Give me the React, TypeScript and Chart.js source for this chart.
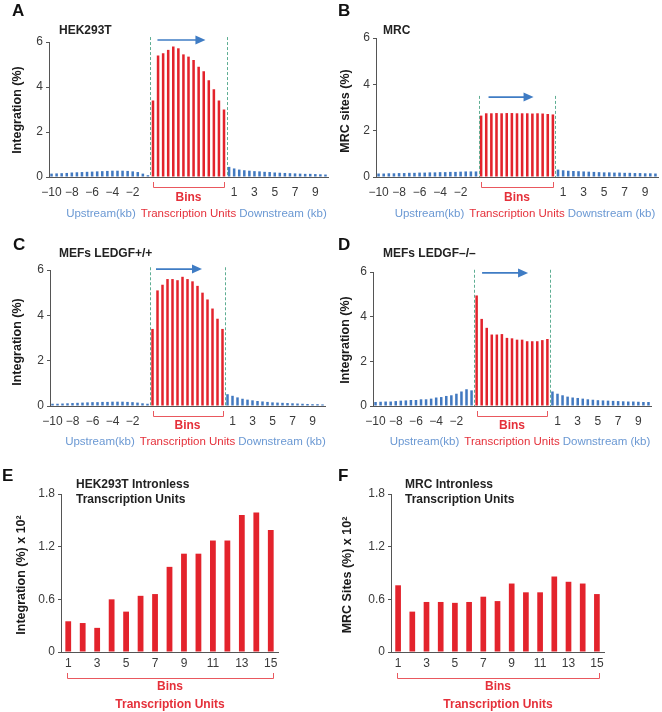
import React, { useEffect, useRef } from 'react';
import { Chart, registerables } from 'chart.js';
Chart.register(...registerables);

// ---------- categories / tick labels ----------
const upstreamBins = ['-10','-9.5','-9','-8.5','-8','-7.5','-7','-6.5','-6','-5.5','-5','-4.5','-4','-3.5','-3','-2.5','-2','-1.5','-1','-0.5'];
const tuBins = ['TU1','TU2','TU3','TU4','TU5','TU6','TU7','TU8','TU9','TU10','TU11','TU12','TU13','TU14','TU15'];
const downstreamBins = ['0.5','1','1.5','2','2.5','3','3.5','4','4.5','5','5.5','6','6.5','7','7.5','8','8.5','9','9.5','10'];
const profileTicks = ['-10','-8','-6','-4','-2','1','3','5','7','9'];
const intronlessBins = ['1','2','3','4','5','6','7','8','9','10','11','12','13','14','15'];
const intronlessTicks = ['1','3','5','7','9','11','13','15'];
const profileYTicks = [0, 2, 4, 6];
const intronlessYTicks = [0, 0.6, 1.2, 1.8];

// ---------- A: HEK293T ----------
const upA = [0.15,0.16,0.17,0.18,0.2,0.21,0.22,0.23,0.24,0.25,0.26,0.27,0.28,0.28,0.28,0.27,0.25,0.22,0.15,0.08];
const tuA = [3.4,5.4,5.5,5.65,5.8,5.72,5.45,5.35,5.2,4.9,4.7,4.3,3.9,3.4,3.0];
const downA = [0.45,0.38,0.33,0.3,0.28,0.26,0.25,0.23,0.22,0.2,0.19,0.18,0.17,0.16,0.15,0.14,0.14,0.13,0.12,0.11];
// ---------- B: MRC ----------
const upB = [0.15,0.15,0.16,0.16,0.17,0.17,0.18,0.18,0.19,0.19,0.2,0.2,0.21,0.21,0.22,0.22,0.23,0.24,0.24,0.24];
const tuB = [2.65,2.75,2.75,2.76,2.75,2.76,2.76,2.75,2.75,2.75,2.74,2.75,2.74,2.72,2.7];
const downB = [0.32,0.29,0.27,0.26,0.25,0.24,0.23,0.22,0.21,0.2,0.2,0.19,0.19,0.18,0.18,0.17,0.17,0.16,0.16,0.15];
// ---------- C: MEFs LEDGF+/+ ----------
const upC = [0.1,0.1,0.11,0.12,0.13,0.14,0.15,0.16,0.17,0.17,0.18,0.18,0.19,0.19,0.19,0.18,0.17,0.15,0.12,0.1];
const tuC = [3.4,5.1,5.35,5.6,5.6,5.55,5.7,5.6,5.5,5.3,5.0,4.7,4.3,3.85,3.4];
const downC = [0.52,0.45,0.38,0.32,0.28,0.25,0.22,0.2,0.18,0.16,0.15,0.14,0.13,0.12,0.11,0.1,0.09,0.08,0.08,0.07];
// ---------- D: MEFs LEDGF-/- ----------
const upD = [0.18,0.19,0.2,0.2,0.22,0.24,0.25,0.27,0.27,0.3,0.3,0.33,0.38,0.4,0.45,0.48,0.55,0.65,0.75,0.7];
const tuD = [4.95,3.9,3.5,3.2,3.2,3.22,3.05,3.03,2.97,2.97,2.9,2.9,2.9,2.95,3.0];
const downD = [0.65,0.55,0.48,0.42,0.38,0.36,0.33,0.3,0.28,0.26,0.25,0.24,0.23,0.22,0.21,0.2,0.2,0.19,0.18,0.18];
// ---------- E / F: intronless ----------
const intronlessHEK = [0.35,0.33,0.275,0.6,0.46,0.64,0.66,0.97,1.12,1.12,1.27,1.27,1.56,1.59,1.39];
const intronlessMRC = [0.76,0.46,0.57,0.57,0.56,0.57,0.63,0.58,0.78,0.68,0.68,0.86,0.8,0.78,0.66];

// ---------- styles ----------
const BLUE = '#4279c0';
const RED = '#e3232c';
const RED_LIGHT = '#e9585e';
const GREEN = '#5fae93';
const ARROW = '#3f7cc4';
const TEXT_BLUE = '#6a98d3';
const TEXT_RED = '#e5303a';
const AXIS = '#555555';
const TICK = '#3a3a3a';
const FONT = "'Liberation Sans', Arial, Helvetica, sans-serif";

type Box = { x: number; y: number; w: number; h: number };
type Area = { left: number; right: number; top: number; bottom: number };

type ProfileSpec = {
  kind: 'profile';
  letter: string; title: string; yTitle: string; yMax: number;
  up: number[]; tu: number[]; down: number[];
  box: Box; area: Area;
  letterPos: [number, number]; titlePos: [number, number]; yTitlePos: [number, number];
  dashTop: number; arrowY: number; arrowStart: number; arrowEnd: number;
  binsY: number; labelsY: number;
};
type IntronSpec = {
  kind: 'intron';
  letter: string; title: string[]; yTitle: string; yMax: number;
  values: number[];
  box: Box; area: Area;
  letterPos: [number, number]; titlePos: [number, number]; yTitlePos: [number, number];
};

const panels: (ProfileSpec | IntronSpec)[] = [
  { kind: 'profile', letter: 'A', title: 'HEK293T', yTitle: 'Integration (%)', yMax: 6,
    up: upA, tu: tuA, down: downA,
    box: { x: 0, y: 0, w: 331, h: 230 }, area: { left: 49, right: 328, top: 42, bottom: 177 },
    letterPos: [12, 11], titlePos: [59, 31], yTitlePos: [18, 110],
    dashTop: 6.22, arrowY: 6.09, arrowStart: 7, arrowEnd: 55, binsY: 198, labelsY: 214 },
  { kind: 'profile', letter: 'B', title: 'MRC', yTitle: 'MRC sites (%)', yMax: 6,
    up: upB, tu: tuB, down: downB,
    box: { x: 331, y: 0, w: 331, h: 230 }, area: { left: 45, right: 327, top: 38, bottom: 177 },
    letterPos: [7, 11], titlePos: [52, 31], yTitlePos: [15, 111],
    dashTop: 3.5, arrowY: 3.45, arrowStart: 10, arrowEnd: 55, binsY: 198, labelsY: 214 },
  { kind: 'profile', letter: 'C', title: 'MEFs LEDGF+/+', yTitle: 'Integration (%)', yMax: 6,
    up: upC, tu: tuC, down: downC,
    box: { x: 0, y: 230, w: 331, h: 230 }, area: { left: 50, right: 325, top: 40, bottom: 176 },
    letterPos: [13, 15], titlePos: [59, 24], yTitlePos: [18, 112],
    dashTop: 6.12, arrowY: 6.04, arrowStart: 6, arrowEnd: 52, binsY: 196, labelsY: 212 },
  { kind: 'profile', letter: 'D', title: 'MEFs LEDGF\u2013/\u2013', yTitle: 'Integration (%)', yMax: 6,
    up: upD, tu: tuD, down: downD,
    box: { x: 331, y: 230, w: 331, h: 230 }, area: { left: 42, right: 320, top: 42, bottom: 176 },
    letterPos: [7, 15], titlePos: [52, 24], yTitlePos: [15, 110],
    dashTop: 6.1, arrowY: 5.96, arrowStart: 8, arrowEnd: 54, binsY: 196, labelsY: 212 },
  { kind: 'intron', letter: 'E', title: ['HEK293T Intronless', 'Transcription Units'],
    yTitle: 'Integration (%) x 10\u00b2', yMax: 1.8, values: intronlessHEK,
    box: { x: 0, y: 460, w: 331, h: 252 }, area: { left: 61, right: 278, top: 34, bottom: 192 },
    letterPos: [2, 16], titlePos: [76, 25], yTitlePos: [22, 115] },
  { kind: 'intron', letter: 'F', title: ['MRC Intronless', 'Transcription Units'],
    yTitle: 'MRC Sites (%) x 10\u00b2', yMax: 1.8, values: intronlessMRC,
    box: { x: 331, y: 460, w: 331, h: 252 }, area: { left: 60, right: 273, top: 34, bottom: 192 },
    letterPos: [7, 16], titlePos: [74, 25], yTitlePos: [17, 115] },
];

function drawCommon(ctx: CanvasRenderingContext2D, p: ProfileSpec | IntronSpec) {
  ctx.save();
  ctx.fillStyle = '#111';
  ctx.textAlign = 'left';
  ctx.textBaseline = 'middle';
  ctx.font = `bold 17px ${FONT}`;
  ctx.fillText(p.letter, p.letterPos[0], p.letterPos[1]);
  ctx.fillStyle = '#222';
  ctx.font = `bold 12px ${FONT}`;
  const lines = Array.isArray(p.title) ? p.title : [p.title];
  lines.forEach((t, i) => ctx.fillText(t, p.titlePos[0], p.titlePos[1] + i * 15));
  ctx.translate(p.yTitlePos[0], p.yTitlePos[1]);
  ctx.rotate(-Math.PI / 2);
  ctx.textAlign = 'center';
  ctx.font = `bold 12.5px ${FONT}`;
  ctx.fillStyle = '#1a1a1a';
  ctx.fillText(p.yTitle, 0, 0);
  ctx.restore();
}

function makeProfilePlugin(p: ProfileSpec) {
  return {
    id: 'profileOverlay' + p.letter,
    afterDraw(chart: any) {
      const { ctx, chartArea } = chart;
      const xs = chart.scales.x;
      const ys = chart.scales.y;
      const nUp = p.up.length;
      const nTu = p.tu.length;
      const x0 = (xs.getPixelForValue(nUp - 1) + xs.getPixelForValue(nUp)) / 2;
      const x1 = (xs.getPixelForValue(nUp + nTu - 1) + xs.getPixelForValue(nUp + nTu)) / 2;
      ctx.save();
      // dashed boundaries
      ctx.strokeStyle = GREEN;
      ctx.lineWidth = 1;
      ctx.setLineDash([3, 2]);
      [x0, x1].forEach((xx) => {
        ctx.beginPath();
        ctx.moveTo(Math.round(xx) + 0.5, ys.getPixelForValue(p.dashTop));
        ctx.lineTo(Math.round(xx) + 0.5, chartArea.bottom);
        ctx.stroke();
      });
      ctx.setLineDash([]);
      // arrow
      const ay = ys.getPixelForValue(p.arrowY);
      const ax0 = x0 + p.arrowStart;
      const ax1 = x0 + p.arrowEnd;
      ctx.strokeStyle = ARROW;
      ctx.fillStyle = ARROW;
      ctx.lineWidth = 1.7;
      ctx.beginPath();
      ctx.moveTo(ax0, ay);
      ctx.lineTo(ax1 - 8, ay);
      ctx.stroke();
      ctx.beginPath();
      ctx.moveTo(ax1, ay);
      ctx.lineTo(ax1 - 10, ay - 4.5);
      ctx.lineTo(ax1 - 10, ay + 4.5);
      ctx.closePath();
      ctx.fill();
      // bracket
      const bx0 = xs.getPixelForValue(nUp);
      const bx1 = xs.getPixelForValue(nUp + nTu - 1);
      const bt = chartArea.bottom + 5;
      const bb = chartArea.bottom + 10;
      ctx.strokeStyle = RED_LIGHT;
      ctx.lineWidth = 1;
      ctx.beginPath();
      ctx.moveTo(Math.round(bx0) + 0.5, bt);
      ctx.lineTo(Math.round(bx0) + 0.5, bb + 0.5);
      ctx.lineTo(Math.round(bx1) + 0.5, bb + 0.5);
      ctx.lineTo(Math.round(bx1) + 0.5, bt);
      ctx.stroke();
      // labels
      const mid = (x0 + x1) / 2;
      ctx.textBaseline = 'middle';
      ctx.textAlign = 'center';
      ctx.fillStyle = TEXT_RED;
      ctx.font = `bold 12px ${FONT}`;
      ctx.fillText('Bins', mid, p.binsY);
      ctx.font = `11.5px ${FONT}`;
      const tuText = 'Transcription Units';
      const tw = ctx.measureText(tuText).width;
      ctx.fillText(tuText, mid, p.labelsY);
      ctx.fillStyle = TEXT_BLUE;
      ctx.textAlign = 'right';
      ctx.fillText('Upstream(kb)', mid - tw / 2 - 5, p.labelsY);
      ctx.textAlign = 'left';
      ctx.fillText('Downstream (kb)', mid + tw / 2 + 3, p.labelsY);
      ctx.restore();
      drawCommon(ctx, p);
    },
  };
}

function makeIntronPlugin(p: IntronSpec) {
  return {
    id: 'intronOverlay' + p.letter,
    afterDraw(chart: any) {
      const { ctx, chartArea } = chart;
      const xs = chart.scales.x;
      const bx0 = xs.getPixelForValue(0) - 1;
      const bx1 = xs.getPixelForValue(p.values.length - 1) + 2;
      const bt = chartArea.bottom + 21;
      const bb = chartArea.bottom + 26;
      ctx.save();
      ctx.strokeStyle = RED_LIGHT;
      ctx.lineWidth = 1;
      ctx.beginPath();
      ctx.moveTo(Math.round(bx0) + 0.5, bt);
      ctx.lineTo(Math.round(bx0) + 0.5, bb + 0.5);
      ctx.lineTo(Math.round(bx1) + 0.5, bb + 0.5);
      ctx.lineTo(Math.round(bx1) + 0.5, bt);
      ctx.stroke();
      const mid = (bx0 + bx1) / 2;
      ctx.fillStyle = TEXT_RED;
      ctx.textAlign = 'center';
      ctx.textBaseline = 'middle';
      ctx.font = `bold 12px ${FONT}`;
      ctx.fillText('Bins', mid, chartArea.bottom + 35);
      ctx.fillText('Transcription Units', mid, chartArea.bottom + 53);
      ctx.restore();
      drawCommon(ctx, p);
    },
  };
}

function buildConfig(p: ProfileSpec | IntronSpec): any {
  const { area, box } = p;
  let labels: string[];
  let data: number[];
  let colors: string[];
  let shown: string[];
  let barPct: number;
  let yTicks: number[];
  let xPad: number;
  if (p.kind === 'profile') {
    labels = [...upstreamBins, ...tuBins, ...downstreamBins];
    data = [...p.up, ...p.tu, ...p.down];
    colors = [...p.up.map(() => BLUE), ...p.tu.map(() => RED), ...p.down.map(() => BLUE)];
    shown = profileTicks;
    barPct = 0.5;
    yTicks = profileYTicks;
    xPad = 8;
  } else {
    labels = intronlessBins;
    data = p.values;
    colors = p.values.map(() => RED);
    shown = intronlessTicks;
    barPct = 0.4;
    yTicks = intronlessYTicks;
    xPad = 4;
  }
  const plugin = p.kind === 'profile' ? makeProfilePlugin(p) : makeIntronPlugin(p);
  return {
    type: 'bar',
    data: {
      labels,
      datasets: [{ data, backgroundColor: colors, borderWidth: 0, barPercentage: barPct, categoryPercentage: 1 }],
    },
    options: {
      animation: false,
      responsive: false,
      maintainAspectRatio: false,
      layout: { padding: { left: 0, top: area.top, right: box.w - area.right, bottom: 0 } },
      plugins: { legend: { display: false }, tooltip: { enabled: false }, title: { display: false } },
      scales: {
        x: {
          grid: { display: false, drawTicks: false },
          border: { display: true, color: AXIS, width: 1 },
          ticks: {
            autoSkip: false,
            maxRotation: 0,
            minRotation: 0,
            padding: xPad,
            color: TICK,
            font: { family: FONT, size: 12 },
            callback: (_v: any, i: number) => (shown.includes(labels[i]) ? labels[i].replace('-', '\u2212') : ''),
          },
          afterFit: (s: any) => {
            s.height = box.h - area.bottom;
            s.paddingLeft = 0;
            s.paddingRight = 0;
          },
        },
        y: {
          min: 0,
          max: p.yMax,
          afterBuildTicks: (s: any) => {
            s.ticks = yTicks.map((v) => ({ value: v }));
          },
          grid: { display: true, drawOnChartArea: false, drawTicks: true, tickLength: 3, color: AXIS },
          border: { display: true, color: AXIS, width: 1 },
          ticks: {
            padding: 3,
            color: TICK,
            font: { family: FONT, size: 12 },
            callback: (v: any) => (v === 0 ? '0' : p.kind === 'intron' ? Number(v).toFixed(1) : String(v)),
          },
          afterFit: (s: any) => {
            s.width = area.left;
            s.paddingTop = 0;
            s.paddingBottom = 0;
          },
        },
      },
    },
    plugins: [plugin],
  };
}

function Panel({ spec }: { spec: ProfileSpec | IntronSpec }) {
  const ref = useRef<HTMLCanvasElement | null>(null);
  useEffect(() => {
    if (!ref.current) return;
    const chart = new Chart(ref.current, buildConfig(spec));
    return () => chart.destroy();
  }, [spec]);
  const { box } = spec;
  return (
    <canvas
      ref={ref}
      width={box.w}
      height={box.h}
      style={{ position: 'absolute', left: box.x, top: box.y, width: box.w, height: box.h }}
    />
  );
}

export default function App() {
  return (
    <div style={{ position: 'absolute', left: 0, top: 0, width: 662, height: 712, background: '#fff', overflow: 'hidden' }}>
      {panels.map((p) => (
        <Panel key={p.letter} spec={p} />
      ))}
    </div>
  );
}
